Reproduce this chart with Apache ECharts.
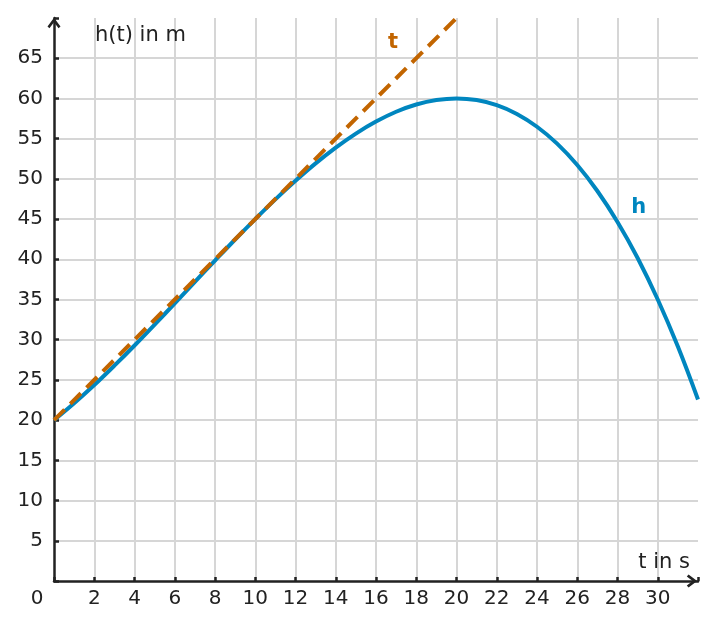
<!DOCTYPE html>
<html>
<head>
<meta charset="utf-8">
<script src="https://cdn.jsdelivr.net/npm/echarts@6/dist/echarts.min.js"></script>
<style>
  html, body { margin: 0; padding: 0; background: #fff; }
  #chart { width: 715px; height: 629px; }
</style>
</head>
<body>
<div id="chart"></div>
<script>
    // Werte
    var tValues = [0, 1, 2, 3, 4, 5, 6, 7, 8, 9, 10, 11, 12, 13, 14, 15, 16,
                   17, 18, 19, 20, 21, 22, 23, 24, 25, 26, 27, 28, 29, 30, 31, 32];
    var hValues = [20, 22.1, 24.36, 26.77, 29.28, 31.88, 34.52, 37.19, 39.84, 42.46, 45,
                   47.45, 49.76, 51.92, 53.88, 55.63, 57.12, 58.34, 59.24, 59.8, 60,
                   59.8, 59.16, 58.07, 56.48, 54.38, 51.72, 48.49, 44.64, 40.16, 35,
                   29.15, 22.56];
    var tangentT = [0, 20];
    var tangentH = [20, 70];

    var blue = '#0086bf';
    var orange = '#c26500';
    var axisColor = '#222';
    var font = 'DejaVu Sans';

    var arrow = 'path://M6,0 L12,8 L10.2,9.6 L6,4.2 L1.8,9.6 L0,8 Z';

    var hData = tValues.map(function (t, i) { return [t, hValues[i]]; });
    var tData = tangentT.map(function (t, i) { return [t, tangentH[i]]; });

    var myChart = echarts.init(document.getElementById('chart'));

    var option = {
        animation: false,
        grid: { left: 54, right: 17, top: 18, bottom: 48 },
        xAxis: {
            type: 'value',
            min: 0,
            max: 32,
            interval: 2,
            name: 't in s',
            nameLocation: 'end',
            nameGap: -8,
            nameTextStyle: {
                color: axisColor, fontFamily: font, fontSize: 21,
                align: 'right', verticalAlign: 'bottom', padding: [0, 0, 8, 0]
            },
            axisLine: {
                onZero: false,
                symbol: ['none', arrow],
                symbolSize: [13, 11],
                symbolOffset: [0, -6],
                lineStyle: { color: axisColor, width: 2.5 }
            },
            axisTick: { show: true, inside: true, length: 4, lineStyle: { color: axisColor, width: 2.5 } },
            axisLabel: {
                color: axisColor, fontFamily: font, fontSize: 20, margin: 8,
                formatter: function (v) {
                    if (v === 0) return '{o|0}';
                    if (v === 32) return '';
                    return String(v);
                },
                rich: { o: { padding: [0, 34, 0, 0], fontFamily: font, fontSize: 20, color: axisColor } }
            },
            splitLine: { show: true, showMinLine: false, showMaxLine: false, lineStyle: { color: '#d6d6d6', width: 2 } }
        },
        yAxis: {
            type: 'value',
            min: 0,
            max: 70,
            interval: 5,
            name: 'h(t) in m',
            nameLocation: 'end',
            nameGap: -18,
            nameTextStyle: {
                color: axisColor, fontFamily: font, fontSize: 21,
                align: 'left', verticalAlign: 'middle', padding: [0, 0, 0, 41]
            },
            axisLine: {
                show: true,
                symbol: ['none', arrow],
                symbolSize: [13, 11],
                symbolOffset: [0, -5],
                lineStyle: { color: axisColor, width: 2.5 }
            },
            axisTick: { show: true, inside: true, length: 5, lineStyle: { color: axisColor, width: 2.5 } },
            axisLabel: {
                color: axisColor, fontFamily: font, fontSize: 20, margin: 11,
                formatter: function (v) {
                    return (v === 0 || v === 70) ? '' : String(v);
                }
            },
            splitLine: { show: true, showMinLine: false, showMaxLine: false, lineStyle: { color: '#d6d6d6', width: 2 } }
        },
        series: [
            {
                name: 'h',
                type: 'line',
                data: hData,
                smooth: 0.4,
                showSymbol: false,
                lineStyle: { color: blue, width: 4 },
                z: 2,
                markPoint: {
                    symbol: 'circle',
                    symbolSize: 1,
                    itemStyle: { color: 'rgba(0,0,0,0)' },
                    label: { show: true, position: 'inside', formatter: 'h', color: blue, fontFamily: font, fontSize: 21, fontWeight: 'bold' },
                    data: [{ coord: [29.06, 46.4] }]
                }
            },
            {
                name: 't',
                type: 'line',
                data: tData,
                showSymbol: false,
                lineStyle: { color: orange, width: 4, type: [15, 8] },
                z: 3,
                markPoint: {
                    symbol: 'circle',
                    symbolSize: 1,
                    itemStyle: { color: 'rgba(0,0,0,0)' },
                    label: { show: true, position: 'inside', formatter: 't', color: orange, fontFamily: font, fontSize: 21, fontWeight: 'bold' },
                    data: [{ coord: [16.84, 66.9] }]
                }
            }
        ]
    };

    myChart.setOption(option);
</script>
</body>
</html>
